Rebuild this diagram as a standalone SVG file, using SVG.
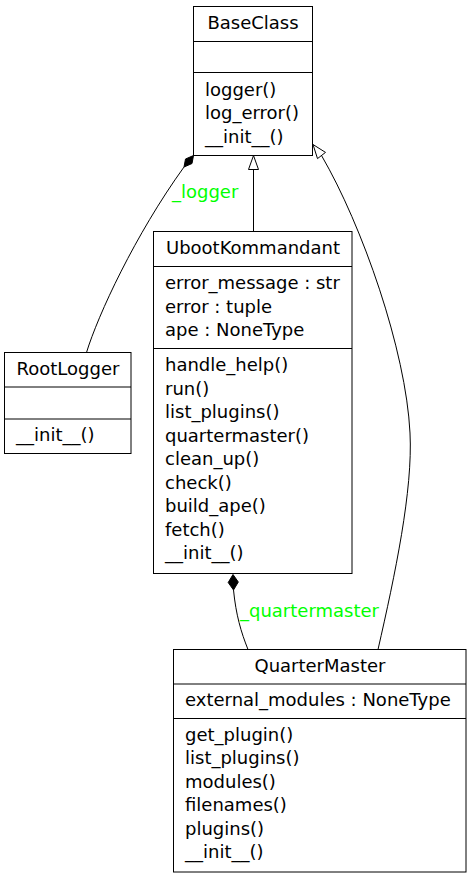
<svg xmlns="http://www.w3.org/2000/svg" width="471" height="880" viewBox="0 0 471 880">
<style>
.box{fill:#ffffff;stroke:#000000;stroke-width:1}
.div{stroke:#000000;stroke-width:1}
.t{font-family:"DejaVu Sans",sans-serif;font-size:18px;fill:#000000}
.c{text-anchor:middle}
.edge{fill:none;stroke:#000000;stroke-width:1}
.lbl{font-family:"DejaVu Sans",sans-serif;font-size:18px;fill:#00ff00}
.dia{fill:#000000;stroke:#000000;stroke-width:1}
.tri{fill:#ffffff;stroke:#000000;stroke-width:1}
</style>
<rect width="471" height="880" fill="#ffffff"/>
<g id="edges">
  <path class="edge" d="M86.5,352.5 C98,315 135,235 184,167"/>
  <polygon class="dia" points="193.5,155.5 192,163.5 184,167 185.5,159"/>
  <text class="lbl" x="172" y="197.5">_logger</text>
  <line class="edge" x1="253.5" y1="231.5" x2="253.5" y2="169.5"/>
  <polygon class="tri" points="253.5,155.5 248.5,169.5 258.5,169.5"/>
  <path class="edge" d="M378,649.5 C395,575 413,490 410,433 C406,350 362,225 321.5,155.5"/>
  <polygon class="tri" points="313,144.5 325.5,152.4 317.5,158.6"/>
  <path class="edge" d="M233.5,590 C236,615 241,632 248,649.5"/>
  <polygon class="dia" points="233,574.5 238.3,582 233.5,590 228.2,582.5"/>
  <text class="lbl" x="240" y="616.5">_quartermaster</text>
</g>
<g id="BaseClass">
  <rect class="box" x="193.5" y="6.5" width="119" height="149"/>
  <line class="div" x1="193.5" y1="41.5" x2="312.5" y2="41.5"/>
  <line class="div" x1="193.5" y1="72.5" x2="312.5" y2="72.5"/>
  <text class="t c" x="253" y="28.5">BaseClass</text>
  <text class="t" x="205" y="95.5">logger()</text>
  <text class="t" x="205" y="119">log_error()</text>
  <text class="t" x="205" y="142.5">__init__()</text>
</g>
<g id="UbootKommandant">
  <rect class="box" x="153.5" y="231.5" width="198.5" height="342"/>
  <line class="div" x1="153.5" y1="266.5" x2="352" y2="266.5"/>
  <line class="div" x1="153.5" y1="348.5" x2="352" y2="348.5"/>
  <text class="t c" x="253" y="253.5">UbootKommandant</text>
  <text class="t" x="165" y="289">error_message : str</text>
  <text class="t" x="165" y="312.5">error : tuple</text>
  <text class="t" x="165" y="336">ape : NoneType</text>
  <text class="t" x="165" y="371">handle_help()</text>
  <text class="t" x="165" y="394.5">run()</text>
  <text class="t" x="165" y="418">list_plugins()</text>
  <text class="t" x="165" y="441.5">quartermaster()</text>
  <text class="t" x="165" y="465">clean_up()</text>
  <text class="t" x="165" y="488.5">check()</text>
  <text class="t" x="165" y="512">build_ape()</text>
  <text class="t" x="165" y="535.5">fetch()</text>
  <text class="t" x="165" y="559">__init__()</text>
</g>
<g id="RootLogger">
  <rect class="box" x="4.5" y="352.5" width="126.5" height="101"/>
  <line class="div" x1="4.5" y1="387" x2="131" y2="387"/>
  <line class="div" x1="4.5" y1="419" x2="131" y2="419"/>
  <text class="t c" x="68" y="374.5">RootLogger</text>
  <text class="t" x="16" y="441">__init__()</text>
</g>
<g id="QuarterMaster">
  <rect class="box" x="173.5" y="649.5" width="292.5" height="222.5"/>
  <line class="div" x1="173.5" y1="684" x2="466" y2="684"/>
  <line class="div" x1="173.5" y1="718.5" x2="466" y2="718.5"/>
  <text class="t c" x="320" y="671.5">QuarterMaster</text>
  <text class="t" x="185" y="706">external_modules : NoneType</text>
  <text class="t" x="185" y="740.5">get_plugin()</text>
  <text class="t" x="185" y="764">list_plugins()</text>
  <text class="t" x="185" y="787.5">modules()</text>
  <text class="t" x="185" y="811">filenames()</text>
  <text class="t" x="185" y="834.5">plugins()</text>
  <text class="t" x="185" y="858">__init__()</text>
</g>
</svg>
